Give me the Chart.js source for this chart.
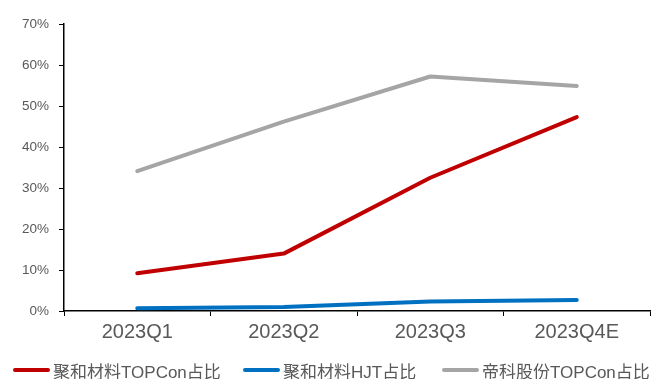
<!DOCTYPE html>
<html><head><meta charset="utf-8">
<script src="https://cdn.jsdelivr.net/npm/chart.js@4"></script>
<style>
html,body{margin:0;padding:0;background:#fff;}
#wrap{position:relative;width:662px;height:379px;}
#c{position:absolute;left:0;top:0;}
.lg{position:absolute;top:359px;height:22px;display:flex;align-items:center;font:17px "Liberation Sans","Noto Sans CJK SC",sans-serif;color:#595959;white-space:nowrap;}
.lg i{display:inline-block;width:37px;height:4px;margin-right:3px;border-radius:2px;}
</style></head><body>
<div id="wrap"><canvas id="c" width="662" height="379"></canvas><div id="legend"></div></div>
<script>
const categories = ["2023Q1","2023Q2","2023Q3","2023Q4E"];
const seriesNames = ["聚和材料TOPCon占比","聚和材料HJT占比","帝科股份TOPCon占比"];
const juheTOPCon = [9.2, 14.0, 32.5, 47.3];
const juheHJT = [0.7, 1.0, 2.3, 2.7];
const dikeTOPCon = [34.1, 46.2, 57.2, 54.9];
const yTicks = [0,10,20,30,40,50,60,70];
const colors = ["#C00000","#0070C0","#A5A5A5"];

const seriesData = [juheTOPCon, juheHJT, dikeTOPCon];
const datasets = seriesData.map((d,i)=>({
  label: seriesNames[i], data: d, borderColor: colors[i], backgroundColor: colors[i],
  borderWidth: 4, pointRadius: 0, tension: 0, fill: false, borderCapStyle: 'round', borderJoinStyle: 'round'
}));

new Chart(document.getElementById('c'), {
  type: 'line',
  data: { labels: categories, datasets },
  options: {
    responsive: false, animation: false,
    layout: { padding: { left: 0, right: 12, top: 24, bottom: 0 } },
    plugins: { legend: { display: false }, tooltip: { enabled: false } },
    scales: {
      x: {
        offset: true,
        grid: { offset: true, drawOnChartArea: false, drawTicks: true, tickLength: 5, color: '#000', lineWidth: 1 },
        border: { color: '#000', width: 1.5 },
        ticks: { color: '#595959', font: { family: '"Liberation Sans","Noto Sans CJK SC",sans-serif', size: 20 }, padding: 4, maxRotation: 0 },
        afterFit: s => { s.height = 68; }
      },
      y: {
        min: 0, max: 70,
        afterBuildTicks: s => { s.ticks = yTicks.map(v => ({ value: v })); },
        grid: { drawOnChartArea: false, drawTicks: true, tickLength: 5, color: '#000', lineWidth: 1 },
        border: { color: '#000', width: 1.5 },
        ticks: { color: '#595959', font: { family: '"Liberation Sans",sans-serif', size: 13.5 }, padding: 10, callback: v => v + '%' },
        afterFit: s => { s.width = 64; }
      }
    }
  }
});

const legendLeft = [13, 243, 442];
const lg = document.getElementById('legend');
seriesNames.forEach((n,i)=>{
  const d = document.createElement('div');
  d.className = 'lg'; d.style.left = legendLeft[i] + 'px';
  d.innerHTML = '<i style="background:' + colors[i] + '"></i><span></span>';
  d.querySelector('span').textContent = n;
  lg.appendChild(d);
});
</script>
</body></html>
